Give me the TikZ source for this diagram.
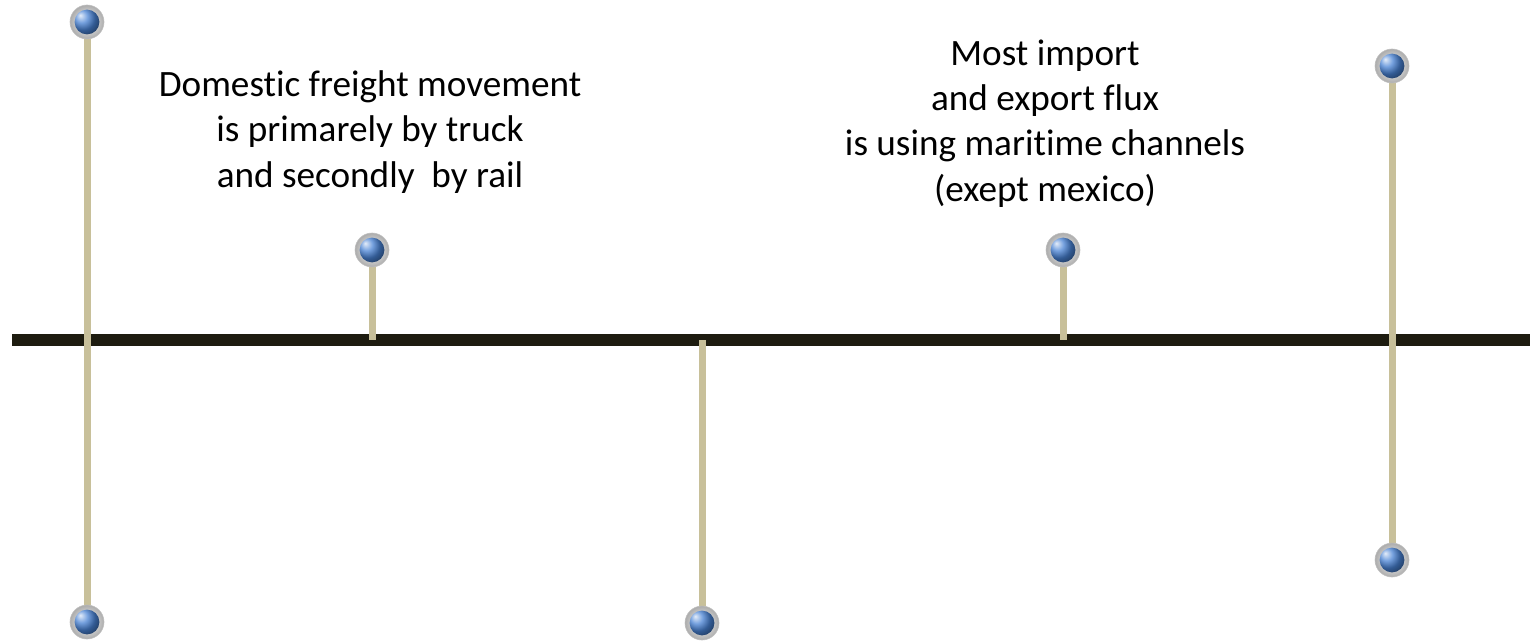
\documentclass[tikz,border=0pt]{standalone}
\usepackage{fontspec}
\setmainfont{Carlito}[Ligatures=NoCommon]
\definecolor{stemc}{RGB}{200,192,154}
\definecolor{barc}{RGB}{30,28,16}
\definecolor{bluec}{RGB}{72,130,212}
\tikzset{
  ballnode/.style={circle, minimum size=17pt, inner sep=0pt, shading=radial,
    inner color=white, outer color=gray!65, draw=gray!50, line width=0.3pt,
    path picture={\shade[ball color=bluec] (path picture bounding box.center) circle (6.2pt);}},
  stemline/.style={draw=stemc, line width=3.5pt},
  barline/.style={draw=barc, line width=6pt},
  label/.style={font=\fontsize{18.6}{22.6}\selectfont, align=center, inner sep=0pt, anchor=base}
}
\begin{document}
\begin{tikzpicture}[x=0.5pt,y=-0.5pt]
  \useasboundingbox (0,0) rectangle (1530,642);
  % horizontal bar
  \coordinate (barL) at (12,340);
  \coordinate (barR) at (1530,340);
  \draw[barline] (barL) -- (barR);
  % points where short stems meet the bar
  \coordinate (j2) at (372,340);
  \coordinate (j3) at (702,340);
  \coordinate (j4) at (1063,340);
  % ball centres
  \coordinate (c1t) at (87,22);
  \coordinate (c1b) at (87,622);
  \coordinate (c2) at (372,250);
  \coordinate (c3) at (702,623);
  \coordinate (c4) at (1063,250);
  \coordinate (c5t) at (1392,66);
  \coordinate (c5b) at (1392,560);
  % stems (above bar)
  \draw[stemline] (c1t) -- (c1b);
  \draw[stemline] (c2) -- (j2);
  \draw[stemline] (j3) -- (c3);
  \draw[stemline] (c4) -- (j4);
  \draw[stemline] (c5t) -- (c5b);
  % balls on top
  \node[ballnode] (b1t) at (c1t) {};
  \node[ballnode] (b1b) at (c1b) {};
  \node[ballnode] (b2) at (c2) {};
  \node[ballnode] (b3) at (c3) {};
  \node[ballnode] (b4) at (c4) {};
  \node[ballnode] (b5t) at (c5t) {};
  \node[ballnode] (b5b) at (c5b) {};
  % texts (anchored at the baseline of their last line)
  \node[label] (t1) at (370,187) {Domestic freight movement\\is primarely by truck\\and secondly\ \ by rail};
  \node[label] (t2) at (1045,201) {Most import\\and export flux\\is using maritime channels\\(exept mexico)};
\end{tikzpicture}
\end{document}
